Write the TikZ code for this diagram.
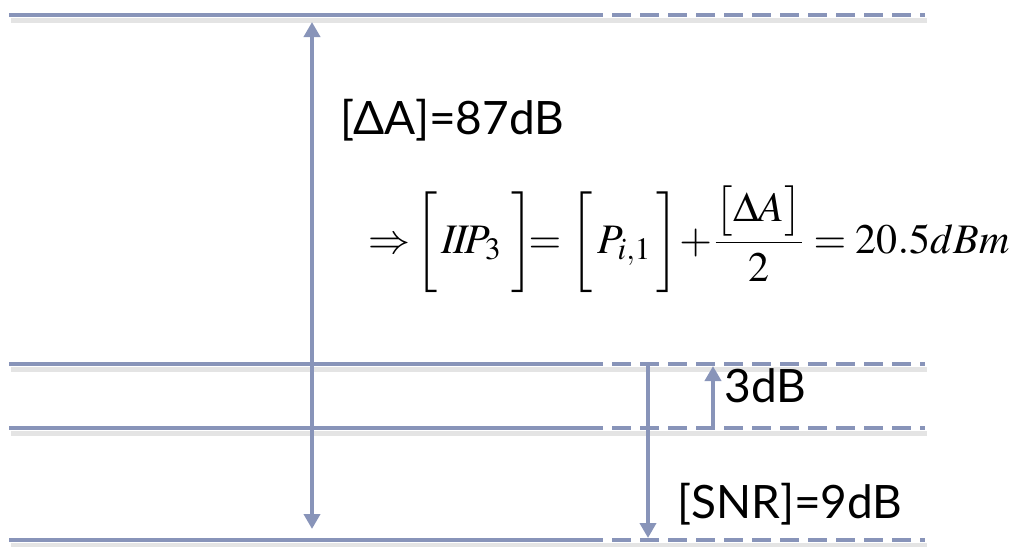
\documentclass[tikz,border=0pt]{standalone}
\usepackage{mathptmx}
\usepackage{fontspec}
\setmainfont{Liberation Serif}
\newfontfamily\labelfont{Lato}
\usetikzlibrary{arrows.meta}
\definecolor{levelblue}{RGB}{136,148,185}
\tikzset{
  level/.style={draw=levelblue,line width=2.2pt},
  extn/.style={draw=levelblue,line width=1.6pt,dash pattern=on 9.5pt off 4.5pt},
  shade/.style={draw=black!30,line width=2.5pt,opacity=0.35,transform canvas={shift={(1pt,-2.5pt)}}},
  tip/.style={-{Triangle[length=7.5pt,width=8pt]}},
  arr/.style={draw=levelblue,line width=2pt,tip},
  lbl/.style={font=\labelfont\fontsize{23}{27}\selectfont,anchor=west,inner sep=0pt}
}

\begin{document}
\begin{tikzpicture}[x=0.5pt,y=-0.5pt]
  \useasboundingbox (0,0) rectangle (1017,546);
  % power levels
  \foreach \name/\y in {top/15,ip/364,im/428,bot/540} {
    \coordinate (\name0) at (9,\y);
    \coordinate (\name1) at (584,\y);
    \coordinate (\name2) at (925,\y);
    \draw[shade] (\name0) -- (\name2);
    \draw[level] (\name0) -- (\name1);
    \draw[extn] (\name1) -- (\name2);
  }
  % arrow ends
  \coordinate (dAt) at (312,22);
  \coordinate (dAb) at (312,529);
  \coordinate (snrt) at (648,364);
  \coordinate (snrb) at (648,538);
  \coordinate (tdbb) at (713,428);
  \coordinate (tdbt) at (713,366);
  \draw[arr,{Triangle[length=7.5pt,width=8pt]}-{Triangle[length=7.5pt,width=8pt]}] (dAt) -- (dAb);
  \draw[arr] (snrt) -- (snrb);
  \draw[arr] (tdbb) -- (tdbt);
  % labels
  \node[lbl] (dA) at (340,120) {[ΔA]=87dB};
  \node[lbl] (tdb) at (724,386) {3dB};
  \node[lbl] (snr) at (677,504) {[SNR]=9dB};
  \node[anchor=base west,inner sep=0pt,font=\fontsize{21}{25}\selectfont] (iip) at (368,253)
    {$\displaystyle\Rightarrow\!\bigg[\,I\!I\!P_{3}\;\bigg]\!{=}\;\bigg[\,P_{i,1}\,\bigg]\!+\!\frac{\big[\Delta A\big]}{2}=20.5dBm$};
\end{tikzpicture}
\end{document}
